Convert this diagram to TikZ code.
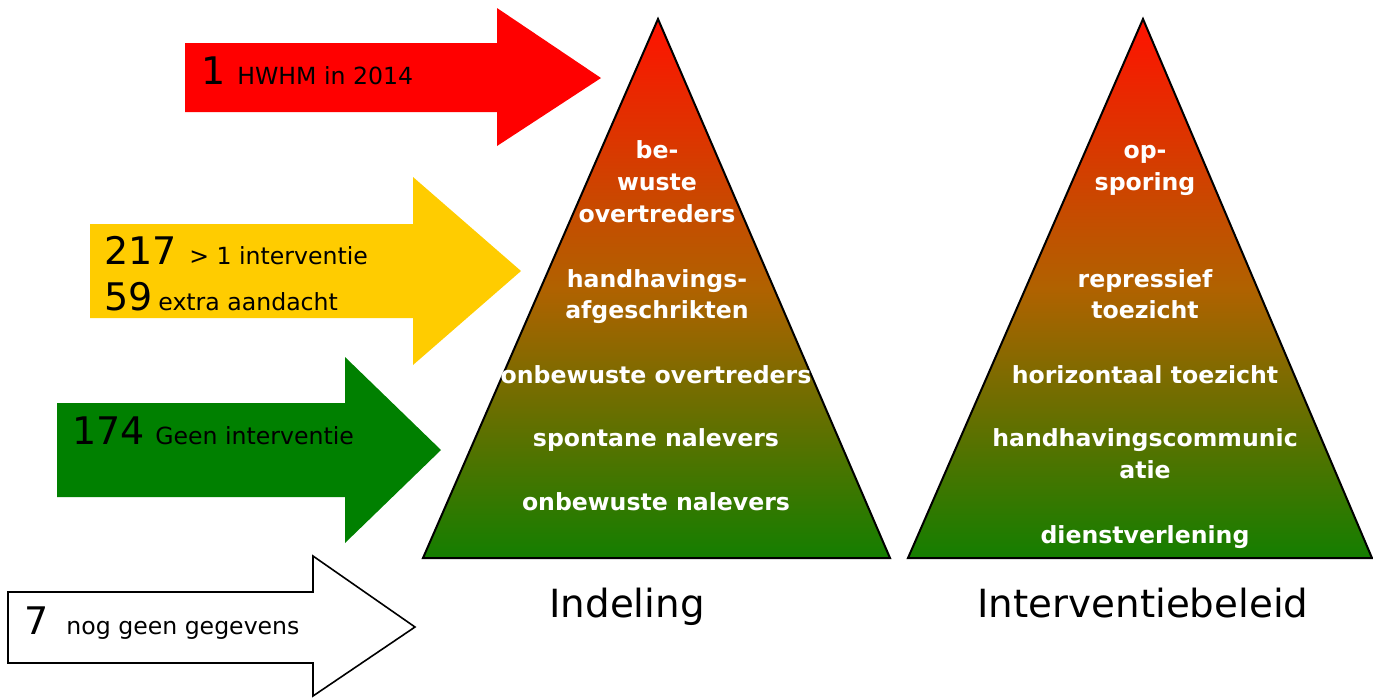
\documentclass[tikz,border=0pt]{standalone}
\usepackage{fontspec}
\setmainfont{DejaVu Sans}
\definecolor{arred}{RGB}{255,0,0}
\definecolor{aryellow}{RGB}{255,204,0}
\definecolor{argreen}{RGB}{0,128,0}
\definecolor{pyrtop}{RGB}{255,18,0}
\definecolor{pyrmid}{RGB}{176,98,0}
\definecolor{pyrbot}{RGB}{20,126,0}
\begin{document}
\begin{tikzpicture}[x=0.5pt,y=-0.5pt,
  numtxt/.style={anchor=base west,inner sep=0pt,font=\fontsize{19}{23}\selectfont},
  lbltxt/.style={anchor=base west,inner sep=0pt,font=\fontsize{11.8}{14}\selectfont},
  pyrtxt/.style={anchor=base,inner sep=0pt,text=white,font=\bfseries\fontsize{11.8}{16}\selectfont},
  captxt/.style={anchor=base,inner sep=0pt,font=\fontsize{19.4}{23}\selectfont},
  pyrline/.style={draw=black,line width=1pt,line join=miter},
  pyrshade/.style={top color=pyrtop,bottom color=pyrbot,middle color=pyrmid}]
\useasboundingbox (0,0) rectangle (1373,698);

% arrows
\fill[arred] (185,43)--(497,43)--(497,8)--(601,78)--(497,146)--(497,112)--(185,112)--cycle;
\fill[aryellow] (90,224)--(413,224)--(413,177)--(521,271)--(413,365)--(413,318)--(90,318)--cycle;
\fill[argreen] (57,403)--(345,403)--(345,357)--(441,450)--(345,543)--(345,497)--(57,497)--cycle;
\draw[fill=white,line width=0.8pt,line join=miter] (8,592)--(313,592)--(313,556)--(415,627)--(313,696)--(313,663)--(8,663)--cycle;

% arrow texts
\node[numtxt] (n1) at (201,84) {1};
\node[lbltxt] (t1) at (237,84) {HWHM in 2014};
\node[numtxt] (n217) at (104,264) {217};
\node[lbltxt] (t217) at (189,264) {> 1 interventie};
\node[numtxt] (n59) at (104,310) {59};
\node[lbltxt] (t59) at (158,310) {extra aandacht};
\node[numtxt] (n174) at (72,444) {174};
\node[lbltxt] (t174) at (155,444) {Geen interventie};
\node[numtxt] (n7) at (24,634) {7};
\node[lbltxt] (t7) at (66,634) {nog geen gegevens};

% pyramids
\coordinate (la) at (658,19);
\coordinate (ll) at (423,558);
\coordinate (lr) at (890,558);
\coordinate (ra) at (1143,19);
\coordinate (rl) at (908,558);
\coordinate (rr) at (1372,558);
\shade[pyrshade] (la)--(lr)--(ll)--cycle;
\draw[pyrline] (la)--(lr)--(ll)--cycle;
\shade[pyrshade] (ra)--(rr)--(rl)--cycle;
\draw[pyrline] (ra)--(rr)--(rl)--cycle;

% left pyramid labels
\node[pyrtxt] (l1a) at (657,158) {be-};
\node[pyrtxt] (l1b) at (657,190) {wuste};
\node[pyrtxt] (l1c) at (657,222) {overtreders};
\node[pyrtxt] (l2a) at (657,287) {handhavings-};
\node[pyrtxt] (l2b) at (657,318) {afgeschrikten};
\node[pyrtxt] (l3) at (656,383) {onbewuste overtreders};
\node[pyrtxt] (l4) at (656,446) {spontane nalevers};
\node[pyrtxt] (l5) at (656,510) {onbewuste nalevers};

% right pyramid labels
\node[pyrtxt] (r1a) at (1145,158) {op-};
\node[pyrtxt] (r1b) at (1145,190) {sporing};
\node[pyrtxt] (r2a) at (1145,287) {repressief};
\node[pyrtxt] (r2b) at (1145,318) {toezicht};
\node[pyrtxt] (r3) at (1145,383) {horizontaal toezicht};
\node[pyrtxt] (r4a) at (1145,446) {handhavingscommunic};
\node[pyrtxt] (r4b) at (1145,478) {atie};
\node[pyrtxt] (r5) at (1145,543) {dienstverlening};

% captions
\node[captxt] (capl) at (627,617) {Indeling};
\node[captxt] (capr) at (1143,617) {Interventiebeleid};
\end{tikzpicture}
\end{document}
